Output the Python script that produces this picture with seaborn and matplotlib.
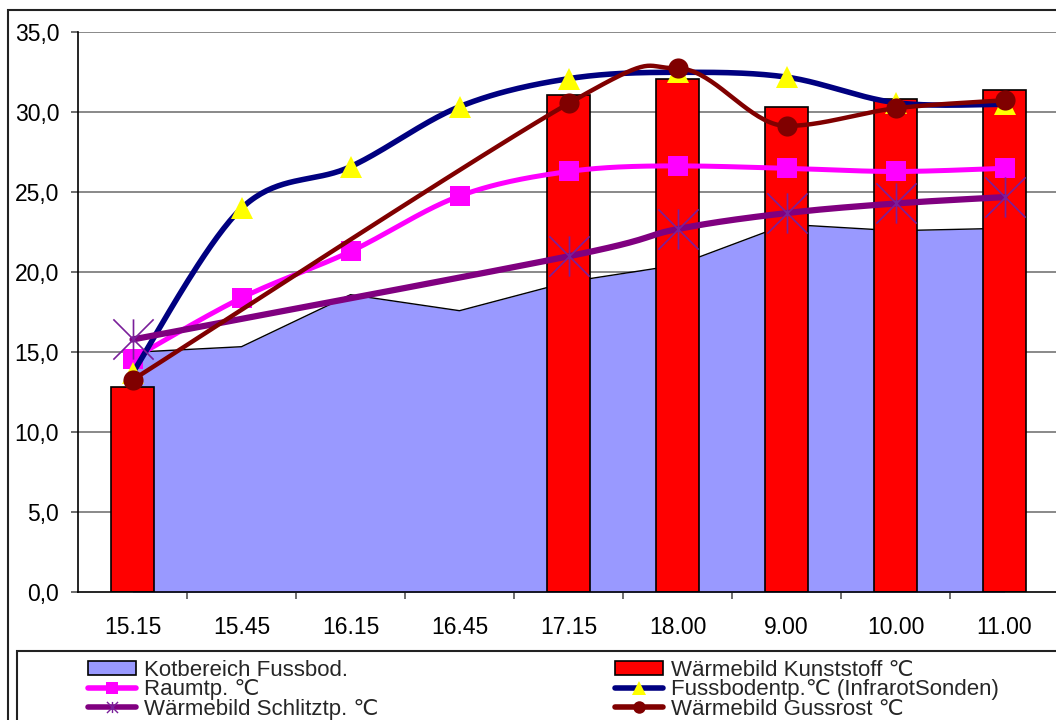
import numpy as np
import matplotlib
matplotlib.use("Agg")
import matplotlib.pyplot as plt
import seaborn as sns
import pandas as pd
from matplotlib.lines import Line2D
from matplotlib.patches import Patch, Rectangle
from matplotlib.path import Path
from matplotlib.ticker import FuncFormatter, FixedLocator

# ---------------- data ----------------
categories = ["15.15", "15.45", "16.15", "16.45", "17.15", "18.00", "9.00", "10.00", "11.00"]
kotbereich = [15.0, 15.35, 18.6, 17.6, 19.4, 20.45, 23.0, 22.6, 22.75]
kunststoff = [12.8, np.nan, np.nan, np.nan, 31.1, 32.1, 30.3, 30.85, 31.4]
raumtp = [14.6, 18.4, 21.3, 24.77, 26.3, 26.65, 26.5, 26.3, 26.5]
fussboden = [13.7, 24.0, 26.6, 30.35, 32.1, 32.5, 32.2, 30.6, 30.5]
schlitz = [15.8, np.nan, np.nan, np.nan, 21.0, 22.7, 23.7, 24.3, 24.7]
gussrost = [13.27, np.nan, np.nan, np.nan, 30.55, 32.75, 29.15, 30.25, 30.75]

labels = ["Kotbereich Fussbod.", "Wärmebild Kunststoff ℃", "Raumtp. ℃",
          "Fussbodentp.℃ (InfrarotSonden)", "Wärmebild Schlitztp. ℃", "Wärmebild Gussrost ℃"]
yticks = [0, 5, 10, 15, 20, 25, 30, 35]

# ---------------- style ----------------
sns.set_theme(style="white")
plt.rcParams["font.family"] = ["Liberation Sans", "DejaVu Sans"]

W, H = 1056, 720
fig = plt.figure(figsize=(W / 100, H / 100), dpi=100)
fig.patch.set_facecolor("white")

left_px, right_px, top_px, bottom_px = 78, 1059, 32.3, 592.3
ax = fig.add_axes([left_px / W, 1 - bottom_px / H,
                   (right_px - left_px) / W, (bottom_px - top_px) / H])
ax.set_facecolor("white")

x = np.arange(len(categories))


def smooth_curve(xs, ys, n=40):
    pts = np.array([(a, b) for a, b in zip(xs, ys) if not np.isnan(b)], dtype=float)
    m = len(pts)
    tang = np.zeros_like(pts)
    for i in range(m):
        p0 = pts[i - 1] if i > 0 else pts[i]
        p2 = pts[i + 1] if i + 1 < m else pts[i]
        tang[i] = (p2 - p0) / 6.0
        if 0 < i < m - 1:
            a, b = pts[i - 1][1] - pts[i][1], pts[i + 1][1] - pts[i][1]
            if a * b > 0:  # local extremum: flatten tangent
                tang[i][1] = 0.0
    out = []
    for i in range(m - 1):
        p1, p2 = pts[i], pts[i + 1]
        c1 = p1 + tang[i]
        c2 = p2 - tang[i + 1]
        t = np.linspace(0, 1, n)[:, None]
        seg = ((1 - t) ** 3) * p1 + 3 * ((1 - t) ** 2) * t * c1 + 3 * (1 - t) * t ** 2 * c2 + t ** 3 * p2
        out.append(seg if i == 0 else seg[1:])
    seg = np.vstack(out)
    return seg[:, 0], seg[:, 1]


# gridlines
for v in yticks[1:]:
    ax.axhline(v, color="#808080", lw=1.3, zorder=0.5)

# area
ax.fill_between(x, kotbereich, 0, color="#9999ff", lw=0, zorder=1)
ax.plot(x, kotbereich, color="black", lw=1.0, zorder=1.1)

# bars via seaborn
df = pd.DataFrame({"cat": categories, "val": kunststoff})
sns.barplot(data=df, x="cat", y="val", order=categories, width=0.4,
            color="#ff0000", saturation=1, edgecolor="black", linewidth=1.2,
            ax=ax, zorder=2)
for p in ax.patches:
    p.set_zorder(2)

# star marker (vertical line + X)
star = Path([(-1, -1), (1, 1), (-1, 1), (1, -1), (0, -1), (0, 1)],
            [Path.MOVETO, Path.LINETO, Path.MOVETO, Path.LINETO, Path.MOVETO, Path.LINETO])

series = [
    (raumtp, "#ff00ff", 3.6, dict(marker="s", ms=15, mfc="#ff00ff", mec="#ff00ff", mew=0)),
    (fussboden, "#000080", 4.0, dict(marker="^", ms=16, mfc="#ffff00", mec="#ffff00", mew=0)),
    (schlitz, "#800080", 4.5, dict(marker=star, ms=29, mfc="none", mec="#7a1f9a", mew=1.2)),
    (gussrost, "#800000", 3.2, dict(marker="o", ms=14.5, mfc="#800000", mec="#800000", mew=0)),
]
z = 3
for vals, col, lw, mk in series:
    sx, sy = smooth_curve(x, np.array(vals, dtype=float))
    ax.plot(sx, sy, color=col, lw=lw, solid_capstyle="round", zorder=z)
    ax.plot(x, vals, ls="none", zorder=z + 0.5, **mk)
    z += 1

# axes
ax.set_xlim(-0.5, len(categories) - 0.5)
ax.set_ylim(0, 35)
ax.set_xlabel("")
ax.set_ylabel("")
for s in ["top", "right"]:
    ax.spines[s].set_visible(False)
for s in ["left", "bottom"]:
    ax.spines[s].set_visible(True)
    ax.spines[s].set_color("black")
    ax.spines[s].set_linewidth(1.2)
    ax.spines[s].set_zorder(10)

ax.yaxis.set_major_locator(FixedLocator(yticks))
ax.yaxis.set_major_formatter(FuncFormatter(lambda v, p: f"{v:.1f}".replace(".", ",")))
ax.tick_params(axis="y", which="major", direction="out", length=5.2, width=1.2,
               color="#555555", left=True, pad=8.4, labelsize=16.5, labelcolor="black")
ax.set_xticks(x)
ax.set_xticklabels(categories)
ax.tick_params(axis="x", which="major", length=0, pad=17, labelsize=16.5, labelcolor="black")
ax.xaxis.set_minor_locator(FixedLocator(np.arange(0.5, len(categories) - 0.5, 1)))
ax.tick_params(axis="x", which="minor", direction="out", length=5.2, width=1.2,
               color="#555555", bottom=True)

# outer frame & legend box
fig.patches.append(Rectangle((8 / W, -0.1), 1.2, 1 - 10 / H + 0.1, transform=fig.transFigure,
                             fill=False, ec="#222222", lw=1.5, clip_on=False))
fig.patches.append(Rectangle((16.7 / W, -0.1), 1.2, 1 - 651 / H + 0.1, transform=fig.transFigure,
                             fill=False, ec="#222222", lw=1.5, clip_on=False))

h_area = Patch(facecolor="#9999ff", edgecolor="black", lw=1.2)
h_bar = Patch(facecolor="#ff0000", edgecolor="black", lw=1.2)
h_raum = Line2D([], [], color="#ff00ff", lw=4, marker="s", ms=9, mfc="#ff00ff", mew=0)
h_fuss = Line2D([], [], color="#000080", lw=4, marker="^", ms=10, mfc="#ffff00", mec="#ffff00", mew=0)
h_schl = Line2D([], [], color="#800080", lw=4, marker=star, ms=8, mfc="none", mec="#7a1f9a", mew=1.0)
h_guss = Line2D([], [], color="#800000", lw=4, marker="o", ms=9, mfc="#800000", mew=0)

common = dict(loc="upper left", frameon=False, fontsize=16, borderpad=0, borderaxespad=0,
              handlelength=2.16, handletextpad=0.36, labelspacing=-0.07, handleheight=0.6)
leg1 = fig.legend([h_area, h_raum, h_schl], [labels[0], labels[2], labels[4]],
                  bbox_to_anchor=(88 / W, 1 - 660 / H), **common)
leg2 = fig.legend([h_bar, h_fuss, h_guss], [labels[1], labels[3], labels[5]],
                  bbox_to_anchor=(615 / W, 1 - 660 / H), **common)

fig.savefig("out.png", dpi=100, facecolor="white")
